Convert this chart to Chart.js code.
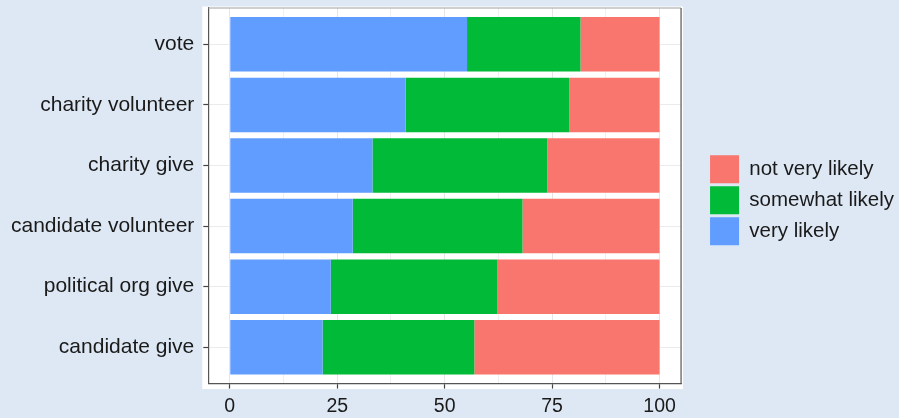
<!DOCTYPE html>
<html>
<head>
<meta charset="utf-8">
<script src="https://cdn.jsdelivr.net/npm/chart.js@4/dist/chart.umd.min.js"></script>
<style>
  html, body { margin: 0; padding: 0; background: #dde8f4; }
  #wrap { width: 899px; height: 418px; position: relative; }
</style>
</head>
<body>
<div id="wrap"><canvas id="c"></canvas></div>
<script>
const categories = ['vote', 'charity volunteer', 'charity give', 'candidate volunteer', 'political org give', 'candidate give'];
const veryLikely = [55.2, 40.9, 33.2, 28.6, 23.5, 21.6];
const somewhatLikely = [26.4, 38.1, 40.7, 39.5, 38.8, 35.3];
const notVeryLikely = [18.4, 21.0, 26.1, 31.9, 37.7, 43.1];
const seriesNames = ['very likely', 'somewhat likely', 'not very likely'];
const xGridValues = [0, 12.5, 25, 37.5, 50, 62.5, 75, 87.5, 100];
const xTickLabels = [0, 25, 50, 75, 100];

const FONT = '"Liberation Sans", Arial, Helvetica, sans-serif';
const BG = '#dde8f4';

const toPoints = arr => arr.map((v, i) => ({ x: v, y: i }));

const panelPlugin = {
  id: 'panel',
  beforeDraw(chart) {
    const { ctx, chartArea: a, width, height } = chart;
    ctx.save();
    ctx.fillStyle = BG;
    ctx.fillRect(0, 0, width, height);
    ctx.fillStyle = '#ffffff';
    ctx.fillRect(a.left - 6, a.top - 1.5, a.right - a.left + 8, a.bottom - a.top + 7);
    ctx.restore();
  },
  afterDraw(chart) {
    const { ctx, chartArea: a } = chart;
    ctx.save();
    ctx.lineWidth = 1.2;
    ctx.strokeStyle = '#a0a0a0';
    ctx.beginPath();
    ctx.moveTo(a.left, a.top);
    ctx.lineTo(a.right, a.top);
    ctx.stroke();
    ctx.strokeStyle = '#555555';
    ctx.beginPath();
    ctx.moveTo(a.right, a.top);
    ctx.lineTo(a.right, a.bottom);
    ctx.stroke();
    ctx.restore();
  }
};

const noEdgePadding = s => { s.paddingTop = 0; s.paddingBottom = 0; };

new Chart(document.getElementById('c'), {
  type: 'bar',
  data: {
    datasets: [
      { label: seriesNames[0], data: toPoints(veryLikely), backgroundColor: '#619cff', borderWidth: 0 },
      { label: seriesNames[1], data: toPoints(somewhatLikely), backgroundColor: '#00ba38', borderWidth: 0 },
      { label: seriesNames[2], data: toPoints(notVeryLikely), backgroundColor: '#f8766d', borderWidth: 0 }
    ]
  },
  options: {
    indexAxis: 'y',
    responsive: true,
    maintainAspectRatio: false,
    animation: false,
    barPercentage: 0.9,
    categoryPercentage: 1,
    layout: { padding: { left: 2, top: 8, right: -5, bottom: -6 } },
    scales: {
      x: {
        type: 'linear',
        stacked: true,
        min: -5,
        max: 105,
        afterBuildTicks: s => { s.ticks = xGridValues.map(v => ({ value: v })); },
        ticks: {
          callback: v => (xTickLabels.includes(v) ? String(v) : ''),
          color: '#1a1a1a',
          font: { family: FONT, size: 19.5 },
          padding: 6,
          maxRotation: 0,
          autoSkip: false
        },
        grid: {
          color: ctx => (ctx.tick && xTickLabels.includes(ctx.tick.value)) ? '#e6e6e6' : '#f0f0f0',
          lineWidth: 1,
          tickLength: 5,
          tickColor: ctx => (ctx.tick && xTickLabels.includes(ctx.tick.value)) ? '#444444' : 'rgba(0,0,0,0)',
          tickWidth: 1.2
        },
        border: { display: true, color: '#555555', width: 1.2 }
      },
      y: {
        type: 'linear',
        stacked: true,
        reverse: true,
        offset: false,
        min: -0.6,
        max: 5.6,
        afterBuildTicks: s => { s.ticks = categories.map((c, i) => ({ value: i })); },
        afterFit: noEdgePadding,
        ticks: {
          callback: v => categories[v] ?? '',
          color: '#1a1a1a',
          font: { family: FONT, size: 21 },
          padding: 9,
          autoSkip: false
        },
        grid: {
          offset: false,
          color: '#ebebeb',
          lineWidth: 1,
          tickLength: 5,
          tickColor: '#444444',
          tickWidth: 1.2
        },
        border: { display: true, color: '#555555', width: 1.2 }
      },
      pad: {
        type: 'linear',
        axis: 'y',
        position: 'right',
        display: false,
        grid: { display: false },
        ticks: { display: false },
        border: { display: false },
        afterFit: s => { s.width = 26; s.paddingTop = 0; s.paddingBottom = 0; }
      }
    },
    plugins: {
      legend: {
        position: 'right',
        fullSize: false,
        reverse: true,
        align: 'center',
        title: { display: true, text: '', padding: 0, font: { size: 7.5, lineHeight: 1.2 } },
        labels: {
          boxWidth: 29,
          boxHeight: 28,
          padding: 3,
          color: '#1a1a1a',
          font: { family: FONT, size: 20.5 }
        }
      },
      tooltip: { enabled: false }
    }
  },
  plugins: [panelPlugin]
});
</script>
</body>
</html>
